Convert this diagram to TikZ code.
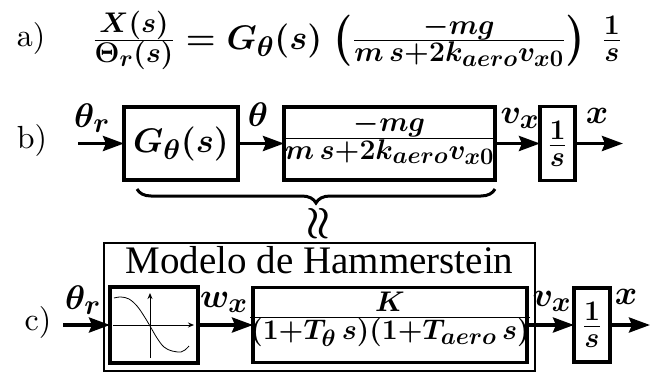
\documentclass[tikz,border=0pt]{standalone}
\usepackage{graphicx}
\usepackage{fontspec}
\newfontfamily\timesfam{Liberation Serif}
\newfontfamily\tagfam[Extension=.otf]{lmroman10-regular}
\usetikzlibrary{arrows.meta,decorations.pathreplacing}
\newcommand\bigmath{\Huge\boldmath}
\newcommand\myparL{\mathopen{\vcenter{\hbox{\scalebox{1.3}[1.5]{$\Biggl($}}}}}
\newcommand\myparR{\mathclose{\vcenter{\hbox{\scalebox{1.3}[1.5]{$\Biggr)$}}}}}
\begin{document}
\begin{tikzpicture}[x=1pt,y=-1pt,
  every node/.style={inner sep=0pt, outer sep=0pt},
  blk/.style={draw, line width=3.5pt},
  hbox/.style={draw, line width=2pt},
  mth/.style={font=\bigmath, scale=1.37},
  arr/.style={line width=3.5pt, -{Stealth[length=21pt,width=15pt,inset=3pt]}},
  tag/.style={font=\tagfam\fontsize{32}{34}\selectfont},
  axis/.style={line width=1pt, -{Stealth[length=6pt,width=5pt]}},
  bracestyle/.style={line width=3pt, decorate, decoration={brace,mirror,amplitude=14pt}}]
\useasboundingbox (0,0) rectangle (657,373);

% row a
\node[tag] (ta) at (31,38) {a)};
\node[mth, anchor=base west] (eq) at (93,49)
  {$\frac{X(s)}{\Theta_r(s)} = G_\theta(s)\;\myparL\frac{-mg}{m\,s+2k_{aero}v_{x0}}\myparR\;\,\frac{1}{s}$};

% row b
\node[tag] (tb) at (32,140) {b)};
\coordinate (bin) at (78,143.5);
\node[blk, minimum width=114pt, minimum height=73pt] (G) at (181,143.5) {};
\node[blk, minimum width=211pt, minimum height=73pt] (P) at (389.5,143.5) {};
\node[blk, minimum width=35pt, minimum height=74pt] (I1) at (557.5,143.5) {};
\node[mth] (Gt) at (G.center) {$G_\theta(s)$};
\node[mth, yshift=3pt] (Pt) at (P.center) {$\frac{-mg}{m\,s+2k_{aero}v_{x0}}$};
\node[mth] (I1t) at (I1.center) {$\frac{1}{s}$};
\coordinate (bout) at (623,143.5);
\draw[arr] (bin) -- (G.west);
\draw[arr] (G.east) -- (P.west);
\draw[arr] (P.east) -- (I1.west);
\draw[arr] (I1.east) -- (bout);
\node[mth] (lthr) at (92,118) {$\theta_r$};
\node[mth] (lth) at (258,115) {$\theta$};
\node[mth] (lvx) at (520,118) {$v_x$};
\node[mth] (lx) at (597,116) {$x$};

% brace and approx
\coordinate (bl) at (137,189);
\coordinate (br) at (495,189);
\draw[bracestyle] (bl) -- (br);
\node[font=\bigmath, scale=1.6, rotate=90] (apx) at (320,224) {$\approx$};

% row c
\node[tag] (tc) at (38,322) {c)};
\node[hbox, minimum width=431pt, minimum height=128pt] (H) at (319.5,307) {};
\node[font=\timesfam\fontsize{39}{42}\selectfont, anchor=base] (title) at (319.5,273) {Modelo de Hammerstein};
\coordinate (cin) at (63,325);
\node[blk, minimum width=88pt, minimum height=76pt] (NL) at (154,325) {};
\node[blk, minimum width=274pt, minimum height=75pt] (TF) at (390,325) {};
\node[blk, minimum width=36pt, minimum height=74pt] (I2) at (592,325) {};
\node[mth, yshift=4pt] (TFt) at (TF.center) {$\frac{K}{(1+T_\theta\,s)(1+T_{aero}\,s)}$};
\node[mth] (I2t) at (I2.center) {$\frac{1}{s}$};
\coordinate (cout) at (650,325);
\draw[arr] (cin) -- (NL.west);
\draw[arr] (NL.east) -- (TF.west);
\draw[arr] (TF.east) -- (I2.west);
\draw[arr] (I2.east) -- (cout);
\node[mth] (cthr) at (83,300) {$\theta_r$};
\node[mth] (cwx) at (224,302) {$w_x$};
\node[mth] (cvx) at (552,301) {$v_x$};
\node[mth] (cx) at (626,297) {$x$};

% nonlinearity sketch
\draw[axis] (113,325) -- (194,325);
\draw[axis] (150,358) -- (150,293);
\draw[line width=0.8pt] plot[smooth, tension=0.6] coordinates {(114,298) (121,297) (129,299) (137,306) (144,316) (150,326) (157,338) (164,347) (172,351) (181,352) (185,350) (189,346)};
\end{tikzpicture}
\end{document}
